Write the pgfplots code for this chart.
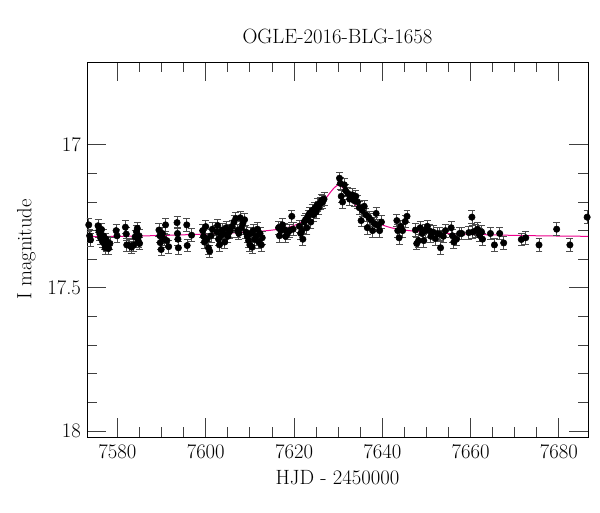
\documentclass[border=0pt]{standalone}
\usepackage{pgfplots}
\usepackage{pgfplotstable}
\pgfplotsset{compat=1.18}
\pgfplotstableread{
x y
7573.5 17.280
7573.7 17.318
7573.9 17.332
7575.6 17.283
7575.8 17.300
7576.0 17.312
7576.2 17.326
7576.4 17.296
7576.6 17.338
7576.8 17.318
7577.0 17.345
7577.2 17.360
7577.4 17.330
7577.6 17.352
7577.8 17.342
7578.0 17.362
7578.3 17.345
7579.7 17.300
7579.9 17.318
7581.8 17.288
7582.0 17.312
7582.1 17.350
7582.7 17.352
7583.2 17.358
7583.7 17.350
7584.0 17.322
7584.3 17.304
7584.5 17.292
7584.7 17.335
7584.9 17.318
7585.0 17.345
7589.4 17.298
7589.6 17.318
7589.7 17.342
7589.9 17.366
7590.2 17.310
7590.6 17.330
7590.9 17.280
7591.2 17.335
7591.6 17.356
7593.5 17.272
7593.6 17.310
7593.7 17.330
7593.8 17.360
7595.7 17.280
7595.8 17.352
7596.8 17.316
7599.3 17.300
7599.5 17.320
7599.7 17.340
7600.0 17.286
7600.3 17.330
7600.6 17.360
7600.9 17.372
7601.2 17.318
7601.5 17.295
7602.5 17.305
7602.7 17.282
7602.9 17.330
7603.1 17.350
7603.4 17.318
7603.7 17.298
7604.0 17.310
7604.3 17.340
7604.6 17.290
7605.0 17.320
7605.3 17.305
7605.6 17.300
7606.0 17.285
7606.4 17.270
7606.8 17.258
7607.2 17.300
7607.5 17.310
7607.8 17.255
7608.1 17.290
7608.4 17.275
7608.8 17.262
7609.1 17.305
7609.4 17.320
7609.7 17.335
7610.0 17.350
7610.2 17.310
7610.5 17.358
7610.8 17.300
7611.1 17.330
7611.4 17.320
7611.7 17.295
7612.0 17.340
7612.3 17.310
7612.6 17.350
7612.8 17.325
7616.5 17.290
7616.7 17.318
7617.0 17.300
7617.4 17.280
7617.8 17.296
7618.1 17.320
7618.5 17.310
7619.0 17.300
7619.5 17.250
7619.8 17.295
7621.2 17.285
7621.5 17.310
7621.8 17.300
7622.0 17.330
7622.3 17.270
7622.6 17.262
7622.9 17.290
7623.2 17.250
7623.5 17.240
7623.8 17.270
7624.1 17.230
7624.4 17.245
7624.7 17.222
7625.0 17.235
7625.3 17.210
7625.6 17.220
7625.9 17.205
7626.2 17.195
7626.5 17.200
7626.8 17.190
7630.3 17.117
7630.5 17.135
7630.7 17.180
7631.0 17.200
7631.4 17.140
7631.7 17.160
7632.2 17.170
7632.6 17.190
7633.2 17.175
7633.6 17.195
7634.0 17.180
7634.4 17.200
7634.8 17.220
7635.2 17.265
7635.5 17.230
7635.9 17.215
7636.3 17.245
7636.6 17.290
7637.0 17.255
7637.4 17.262
7637.8 17.300
7638.2 17.275
7638.6 17.240
7639.0 17.282
7639.4 17.300
7639.8 17.270
7643.3 17.265
7643.5 17.300
7643.8 17.325
7644.2 17.285
7644.6 17.300
7645.2 17.268
7645.6 17.250
7647.5 17.298
7647.8 17.345
7648.2 17.335
7648.6 17.290
7649.0 17.310
7649.4 17.335
7649.8 17.300
7650.2 17.285
7650.6 17.300
7651.0 17.320
7651.5 17.305
7652.0 17.328
7652.5 17.310
7653.0 17.312
7653.2 17.360
7653.8 17.320
7654.3 17.300
7655.6 17.290
7655.9 17.318
7656.2 17.340
7656.8 17.330
7657.5 17.310
7658.0 17.310
7659.6 17.307
7660.3 17.253
7660.5 17.305
7661.2 17.300
7661.6 17.295
7662.0 17.315
7662.5 17.305
7662.7 17.330
7664.5 17.310
7665.4 17.350
7666.6 17.310
7667.5 17.343
7671.5 17.331
7672.5 17.325
7675.5 17.350
7679.5 17.295
7682.5 17.350
7686.4 17.253
}\lc
\begin{document}
\begin{tikzpicture}
\begin{axis}[
  scale only axis,
  width=375.75pt, height=281.25pt,
  xmin=7573.1, xmax=7686.6,
  ymin=16.711, ymax=18.021,
  y dir=reverse,
  xtick={7580,7600,...,7680},
  minor x tick num=3,
  ytick={17,17.5,18},
  minor y tick num=4,
  tick align=inside,
  major tick length=14.25pt,
  minor tick length=7.5pt,
  every tick/.style={black!75, line width=0.6pt},
  axis line style={black, line width=0.7pt},
  xticklabel style={/pgf/number format/1000 sep={}, font=\fontsize{15.5}{18}\selectfont, yshift=-2pt},
  yticklabel style={/pgf/number format/fixed, font=\fontsize{15.5}{18}\selectfont, xshift=-1pt},
  /pgf/number format/assume math mode=true,
  xlabel={HJD - 2450000},
  ylabel={I magnitude},
  xlabel style={font=\fontsize{15.5}{18}\selectfont, yshift=-2pt},
  ylabel style={font=\fontsize{15.5}{18}\selectfont, yshift=2pt},
  title={OGLE-2016-BLG-1658},
  title style={font=\fontsize{15.5}{18}\selectfont, yshift=4pt},
]
\addplot[magenta, line width=0.75pt, smooth] coordinates {
(7572,17.321) (7580,17.320) (7590,17.317) (7600,17.312) (7605,17.309)
(7610,17.305) (7614,17.300) (7617,17.294) (7619,17.287) (7621,17.276)
(7622.5,17.262) (7624,17.244) (7625,17.230) (7626,17.212) (7627,17.192)
(7628,17.171) (7629,17.152) (7629.7,17.143) (7630.1,17.140) (7630.6,17.143)
(7631.3,17.155) (7632,17.172) (7633,17.195) (7634,17.214) (7635,17.230)
(7636,17.245) (7637,17.256) (7638,17.266) (7640,17.280) (7642,17.290)
(7645,17.298) (7650,17.306) (7656,17.311) (7665,17.315) (7675,17.318)
(7687,17.320)
};
\addplot[only marks, mark=*, mark size=2.4pt, black,
  error bars/.cd, y dir=both, y explicit,
  error bar style={black!70, line width=0.6pt},
  error mark options={rotate=90, black!70, mark size=2.6pt, line width=0.6pt}]
  table[x=x, y=y, y error expr=0.022] {\lc};
\end{axis}
\pgfresetboundingbox
\path[use as bounding box] (current axis.south west) ++(-65.25pt,-56.25pt) rectangle ++(450pt,384pt);
\end{tikzpicture}
\end{document}
